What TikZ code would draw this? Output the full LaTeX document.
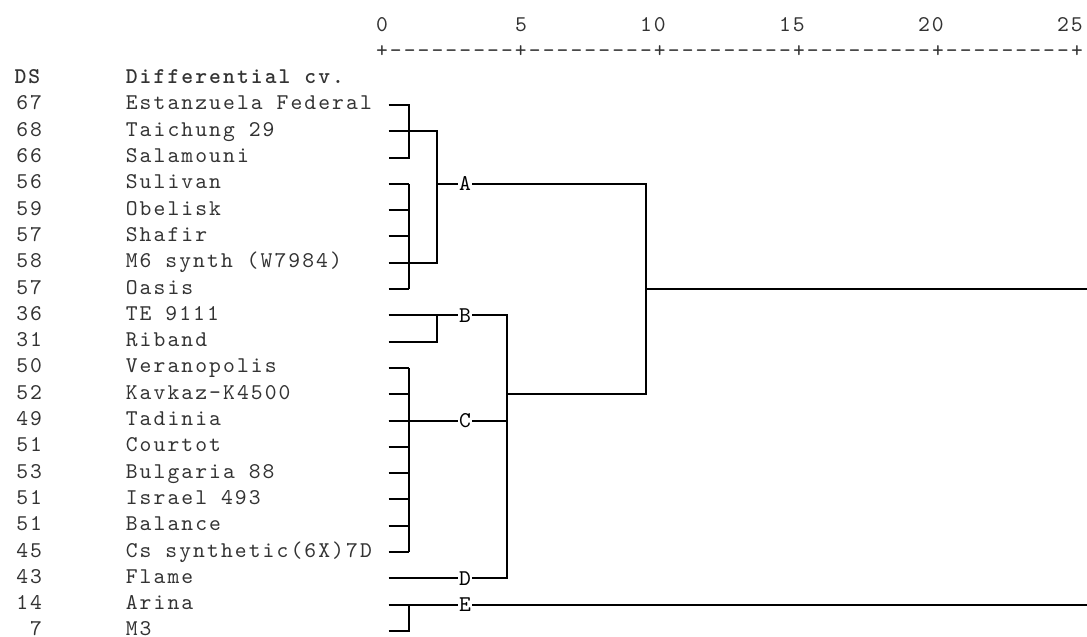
\documentclass[tikz,border=0pt]{standalone}
\usepackage{fontspec}
\setmonofont{lmmono10-regular.otf}[
  BoldFont=lmmonolt10-bold.otf,
  LetterSpace=9.28
]
\usepackage{tikz}
\usetikzlibrary{
  positioning,
  calc,
}
\def\mycw{13.9pt}  % width of one text column
\def\myrh{26.3pt}  % height of one text row
\def\mybl{0.19}    % baseline below row centre
\newcommand{\dgtext}{\ttfamily\fontsize{22.5pt}{26.3pt}\selectfont\spaceskip=\mycw\relax}
\tikzset{
  cell/.style={
    font=\dgtext,
    inner sep=0pt,
    anchor=base west,
    text=black!80
  },
  clus/.style={
    font=\dgtext,
    inner sep=1pt,
    text=black
  },
  tree line/.style={
    line width=2pt,
    black
  }
}

\begin{document}
\begin{tikzpicture}[x=\mycw,y=-\myrh]
\useasboundingbox (-0.957,-2.992) rectangle (77.245,21.228);
% scale on top
\foreach \val/\col in {0/26,5/36,10/45,15/55,20/65,25/75}
  \node[cell] (ax\val) at (\col+0.08,-2+\mybl) {\val};
\node[cell] (axis) at (26.08,-1+\mybl) {+---------+---------+---------+---------+---------+};
% header
\node[cell] (hds) at (0.08,\mybl) {\bfseries DS};
\node[cell] (hcv) at (8.08,\mybl) {\bfseries Differential cv.};
% rows
\foreach \row/\ds/\cv in {
  1/67/Estanzuela Federal, 2/68/Taichung 29, 3/66/Salamouni,
  4/56/Sulivan, 5/59/Obelisk, 6/57/Shafir, 7/58/M6 synth (W7984),
  8/57/Oasis, 9/36/TE 9111, 10/31/Riband, 11/50/Veranopolis,
  12/52/Kavkaz-K4500, 13/49/Tadinia, 14/51/Courtot, 15/53/Bulgaria 88,
  16/51/Israel 493, 17/51/Balance, 18/45/Cs synthetic(6X)7D,
  19/43/Flame, 20/14/Arina, 21/7/M3}{
  \node[cell,anchor=base east] (ds\row) at (2.08,\row+\mybl) {\ds};
  \node[cell] (cv\row) at (8.08,\row+\mybl) {\cv};
  \coordinate (v\row) at (27,\row);
}
% junctions
\coordinate (a1) at (28.5,2);
\coordinate (aj) at (30.5,4);
\coordinate (bj) at (30.5,9);
\coordinate (cj) at (28.5,13);
\coordinate (ej) at (28.5,20);
\coordinate (k1) at (35.5,12);
\coordinate (k2) at (45.5,8);
\coordinate (endA) at (77.3,8);
\coordinate (endE) at (77.3,20);
% cluster labels
\node[clus] (A) at (32.5,4)  {A};
\node[clus] (B) at (32.5,9)  {B};
\node[clus] (C) at (32.5,13) {C};
\node[clus] (D) at (32.5,19) {D};
\node[clus] (E) at (32.5,20) {E};
% cluster A
\draw[tree line] (v1) -| (v3 -| a1) -- (v3);
\foreach \row in {4,...,8}
  \draw[tree line] (v\row) -- (v\row -| a1);
\draw[tree line] (v4 -| a1) -- (v8 -| a1);
\draw[tree line] (v2) -- (v2 -| aj) -- (v7 -| aj) -- (v7);
\draw[tree line] (aj) -- (A);
\draw[tree line] (A) -| (k1 -| k2) -- (k1);
\draw[tree line] (k2) -- (endA);
% cluster B
\draw[tree line] (v9) -- (B);
\draw[tree line] (v10) -| (bj);
\draw[tree line] (B) -| (k1);
% cluster C
\foreach \row in {11,...,18}
  \draw[tree line] (v\row) -- (v\row -| cj);
\draw[tree line] (v11 -| cj) -- (v18 -| cj);
\draw[tree line] (v13) -- (C);
\draw[tree line] (C) -- (C -| k1);
% cluster D
\draw[tree line] (v19) -- (D);
\draw[tree line] (D) -| (k1);
% cluster E
\draw[tree line] (v20) -- (E);
\draw[tree line] (E) -- (endE);
\draw[tree line] (v21) -| (ej);
\end{tikzpicture}
\end{document}
